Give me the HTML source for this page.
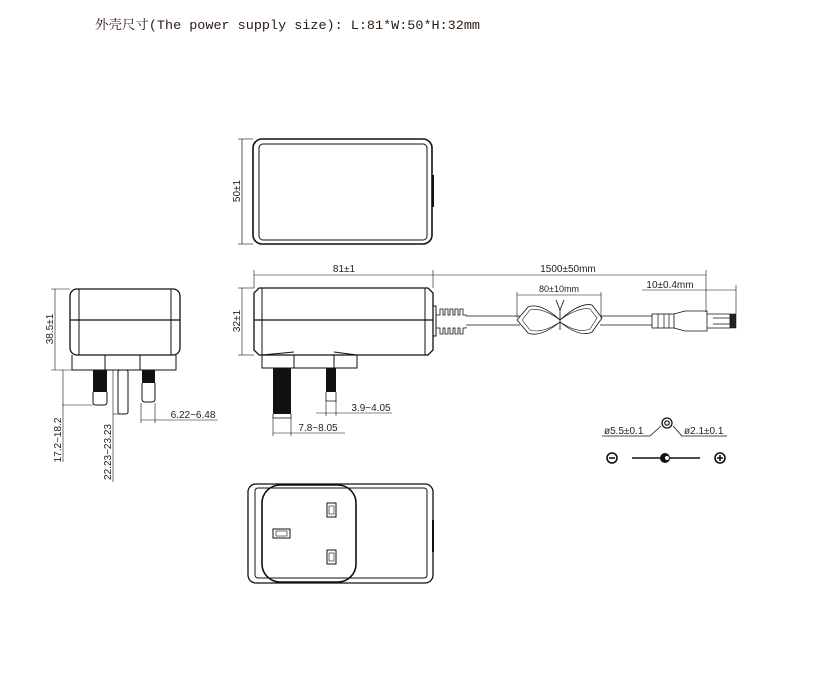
<!DOCTYPE html>
<html><head><meta charset="utf-8"><style>
html,body{margin:0;padding:0;background:#fff;width:833px;height:687px;overflow:hidden}
svg{display:block}
.t{font-family:"Liberation Sans",sans-serif;font-size:10px;fill:#222}
</style></head><body>
<svg width="833" height="687" viewBox="0 0 833 687" xmlns="http://www.w3.org/2000/svg">
<text x="95" y="29" font-family="Liberation Mono,'Noto Serif CJK SC',monospace" font-size="13" fill="#2a1a10" textLength="385" lengthAdjust="spacingAndGlyphs">外壳尺寸(The power supply size): L:81*W:50*H:32mm</text>
<g fill="none" stroke="#111" stroke-width="1">
<rect x="253" y="139" width="179" height="105" rx="9" stroke-width="1.6"/>
<rect x="259" y="144" width="168" height="96" rx="4"/>
<line x1="433" y1="175" x2="433" y2="207" stroke-width="2"/>
<line x1="242" y1="139" x2="242" y2="244" stroke-width="0.7"/>
<line x1="238" y1="139" x2="253" y2="139" stroke-width="0.6"/>
<line x1="238" y1="244" x2="253" y2="244" stroke-width="0.6"/>
<path d="M259 288 H428 L433 293 V350 L428 355 H259 L254 350 V293 Z" stroke-width="1.3"/>
<line x1="254" y1="320" x2="433" y2="320" stroke-width="1.2"/>
<line x1="262" y1="288" x2="262" y2="355"/>
<line x1="425" y1="288" x2="425" y2="355"/>
<path d="M262 355 V368 H357 V355 M294 355 V368 M334 355 V368 M262 355 L294 352 M357 355 L334 352"/>
<line x1="254" y1="275" x2="433" y2="275" stroke-width="0.6"/>
<line x1="254" y1="270" x2="254" y2="288" stroke-width="0.6"/>
<line x1="433" y1="270" x2="433" y2="288" stroke-width="0.6"/>
<line x1="242" y1="288" x2="242" y2="355" stroke-width="0.6"/>
<line x1="238" y1="288" x2="254" y2="288" stroke-width="0.6"/>
<line x1="238" y1="355" x2="254" y2="355" stroke-width="0.6"/>
<line x1="273" y1="418" x2="273" y2="436" stroke-width="0.6"/>
<line x1="291" y1="418" x2="291" y2="436" stroke-width="0.6"/>
<line x1="273" y1="433" x2="345" y2="433" stroke-width="0.6"/>
<line x1="316" y1="413" x2="392" y2="413" stroke-width="0.6"/>
<line x1="326" y1="400" x2="326" y2="416" stroke-width="0.6"/>
<line x1="336" y1="400" x2="336" y2="416" stroke-width="0.6"/>
<path d="M433 306 H436 V336 H433" stroke-width="1"/>
<path d="M436 315 h4 v-6 h3 v6 h2 v-6 h3 v6 h2 v-6 h3 v6 h2 v-6 h3 v6 h2 v-6 h3 v6 h3 v1" stroke-width="0.8"/>
<path d="M436 328 h4 v6 h3 v-6 h2 v6 h3 v-6 h2 v6 h3 v-6 h2 v6 h3 v-6 h2 v6 h3 v-6 h3 v-1" stroke-width="0.8"/>
<line x1="466" y1="316" x2="520" y2="316" stroke-width="0.8"/>
<line x1="466" y1="325" x2="520" y2="325" stroke-width="0.8"/>
<line x1="600" y1="316" x2="652" y2="316" stroke-width="0.8"/>
<line x1="600" y1="325" x2="652" y2="325" stroke-width="0.8"/>
<path d="M517 320 L528 307 Q540 302 560 320 Q580 302 592 305 L602 318 L592 332 Q580 338 560 322 Q540 338 528 333 Z" stroke-width="0.8"/>
<path d="M522 320 L530 310 Q542 307 560 320 Q578 307 590 309 L597 318 L590 329 Q578 334 560 322 Q542 334 530 330 Z" stroke-width="0.6"/>
<path d="M556 300 L560 310 L564 300 M560 310 V330" stroke-width="0.8"/>
<rect x="652" y="314" width="22" height="14" stroke-width="0.8"/>
<path d="M658 314 V328 M664 314 V328 M669 314 V328" stroke-width="0.7"/>
<path d="M674 314 L685 311 H707 V331 H685 L674 328" stroke-width="0.8"/>
<path d="M707 314 H730 V328 H707 M713 318 H730 M713 324 H730" stroke-width="0.7"/>
<rect x="730" y="314" width="6" height="14" fill="#222" stroke-width="0.5"/>
<line x1="433" y1="275" x2="706" y2="275" stroke-width="0.6"/>
<line x1="706" y1="270" x2="706" y2="312" stroke-width="0.6"/>
<line x1="517" y1="295" x2="601" y2="295" stroke-width="0.6"/>
<line x1="517" y1="292" x2="517" y2="318" stroke-width="0.6"/>
<line x1="601" y1="292" x2="601" y2="318" stroke-width="0.6"/>
<line x1="642" y1="290" x2="736" y2="290" stroke-width="0.6"/>
<line x1="736" y1="285" x2="736" y2="314" stroke-width="0.6"/>
<rect x="70" y="289" width="110" height="66" rx="7" stroke-width="1.3"/>
<line x1="70" y1="320" x2="180" y2="320" stroke-width="1.2"/>
<line x1="79" y1="289" x2="79" y2="355"/>
<line x1="171" y1="289" x2="171" y2="355"/>
<path d="M72 355 V370 H176 V355 M105 355 V370 M140 355 V370"/>
<rect x="118" y="370" width="10" height="44" rx="2"/>
<path d="M93 392 V402 Q93 405 96 405 H104 Q107 405 107 402 V392"/>
<path d="M142 383 V399 Q142 402 145 402 H152 Q155 402 155 399 V383"/>
<line x1="55" y1="289" x2="55" y2="370" stroke-width="0.6"/>
<line x1="51" y1="289" x2="70" y2="289" stroke-width="0.6"/>
<line x1="51" y1="370" x2="72" y2="370" stroke-width="0.6"/>
<line x1="63" y1="370" x2="63" y2="462" stroke-width="0.6"/>
<line x1="62" y1="405" x2="93" y2="405" stroke-width="0.6"/>
<line x1="113" y1="370" x2="113" y2="482" stroke-width="0.6"/>
<line x1="113" y1="414" x2="120" y2="414" stroke-width="0.6"/>
<line x1="141" y1="420" x2="218" y2="420" stroke-width="0.6"/>
<line x1="141" y1="403" x2="141" y2="423" stroke-width="0.6"/>
<line x1="155" y1="403" x2="155" y2="423" stroke-width="0.6"/>
<rect x="248" y="484" width="185" height="99" rx="8" stroke-width="1.3"/>
<rect x="255" y="488" width="172" height="90" rx="3"/>
<line x1="433" y1="520" x2="433" y2="552" stroke-width="2"/>
<rect x="262" y="485" width="94" height="97" rx="18" stroke-width="1.6"/>
<rect x="273" y="529" width="17" height="9"/><rect x="276" y="531" width="11" height="5" stroke-width="0.6"/>
<rect x="327" y="503" width="9" height="14"/><rect x="329" y="506" width="5" height="8" stroke-width="0.6"/>
<rect x="327" y="550" width="9" height="14"/><rect x="329" y="553" width="5" height="8" stroke-width="0.6"/>
<circle cx="667" cy="423" r="5" stroke-width="1.3"/>
<circle cx="667" cy="423" r="2.2" stroke-width="1.2"/>
<path d="M602 436 H650 L661 426 M673 426 L682 436 H727" stroke-width="0.8"/>
<circle cx="612" cy="458" r="5" stroke-width="1.6"/><line x1="609" y1="458" x2="615" y2="458" stroke-width="1.6"/>
<line x1="632" y1="458" x2="700" y2="458" stroke-width="1.6"/>
<circle cx="720" cy="458" r="5" stroke-width="1.6"/><path d="M717 458 H723 M720 455 V461" stroke-width="1.6"/>
</g>
<circle cx="665" cy="458" r="5" fill="#111"/><circle cx="667" cy="458" r="2" fill="#fff"/>
<g fill="#111">
<rect x="273" y="368" width="18" height="46"/>
<rect x="326" y="368" width="10" height="24"/>
<rect x="93" y="370" width="14" height="22"/>
<rect x="142" y="370" width="13" height="13"/>
</g>
<g fill="none" stroke="#111" stroke-width="0.8">
<path d="M273 414 V418 H291 V414"/><path d="M326 392 V401 H336 V392"/>
</g>
<g class="t">
<text transform="translate(240,191) rotate(-90)" text-anchor="middle">50±1</text>
<text x="344" y="272" text-anchor="middle">81±1</text>
<text transform="translate(240,321) rotate(-90)" text-anchor="middle">32±1</text>
<text x="371" y="411" text-anchor="middle">3.9~4.05</text>
<text x="318" y="431" text-anchor="middle">7.8~8.05</text>
<text x="568" y="272" text-anchor="middle">1500±50mm</text>
<text x="559" y="292" text-anchor="middle" font-size="9">80±10mm</text>
<text x="670" y="288" text-anchor="middle">10±0.4mm</text>
<text transform="translate(53,329) rotate(-90)" text-anchor="middle">38.5±1</text>
<text transform="translate(61,440) rotate(-90)" text-anchor="middle">17.2~18.2</text>
<text transform="translate(111,452) rotate(-90)" text-anchor="middle">22.23~23.23</text>
<text x="193" y="418" text-anchor="middle">6.22~6.48</text>
<text x="604" y="434">ø5.5±0.1</text>
<text x="684" y="434">ø2.1±0.1</text>
</g>
</svg>
</body></html>
